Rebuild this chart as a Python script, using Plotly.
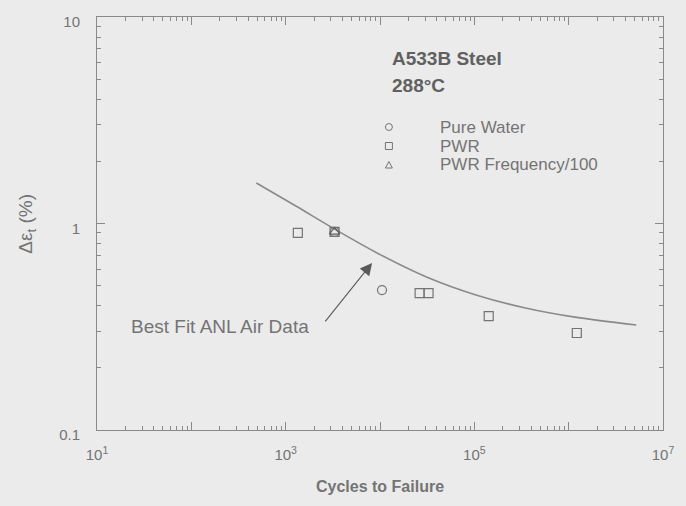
import plotly.graph_objects as go

# ---- data ----
pure_water_n = [3300, 10500]
pure_water_e = [0.91, 0.476]

pwr_n = [1346, 3300, 26300, 32700, 142000, 1220000]
pwr_e = [0.90, 0.91, 0.46, 0.46, 0.356, 0.295]

pwr_f100_n = [3300]
pwr_f100_e = [0.91]

fit_n = [489, 1283, 3296, 9310, 31100, 104000, 348000, 1170000, 5210000]
fit_e = [1.57, 1.215, 0.940, 0.720, 0.551, 0.451, 0.390, 0.352, 0.3225]

x_tickvals = [1e1, 1e2, 1e3, 1e4, 1e5, 1e6, 1e7]
x_ticktext = ["10<sup>1</sup>", "", "10<sup>3</sup>", "", "10<sup>5</sup>", "", "10<sup>7</sup>"]
y_tickvals = [0.1, 1, 10]
y_ticktext = ["0.1", "1", "10"]

legend_labels = ["Pure Water", "PWR", "PWR Frequency/100"]
legend_symbols = ["circle", "square", "triangle"]

BG = "#ebebeb"
INK = "#747474"
DARK = "#606060"
LINE = "#8a8a8a"
FONT = "Liberation Sans, Arial, sans-serif"

# plot area in pixels
W, H = 686, 506
L, R, T, B = 97, 17, 17, 76
PW, PH = W - L - R, H - T - B


def px(xp):
    return (xp - L) / PW


def py(yp):
    return (H - B - yp) / PH


fig = go.Figure()

fig.add_trace(go.Scatter(x=fit_n, y=fit_e, mode="lines", line=dict(color=LINE, width=1.6, shape="spline"),
                         showlegend=False, hoverinfo="skip"))
fig.add_trace(go.Scatter(x=pure_water_n, y=pure_water_e, mode="markers", name=legend_labels[0], showlegend=False,
                         marker=dict(symbol="circle-open", size=9, color=INK, line=dict(width=1.2))))
fig.add_trace(go.Scatter(x=pwr_n, y=pwr_e, mode="markers", name=legend_labels[1], showlegend=False,
                         marker=dict(symbol="square-open", size=9, color=INK, line=dict(width=1.2))))
fig.add_trace(go.Scatter(x=pwr_f100_n, y=pwr_f100_e, mode="markers", name=legend_labels[2], showlegend=False,
                         marker=dict(symbol="triangle-up-open", size=9, color=DARK, line=dict(width=1.2))))

axis_common = dict(
    type="log", showgrid=False, zeroline=False, showline=True, linecolor=LINE, linewidth=1,
    mirror="ticks", ticks="inside", ticklen=8, tickcolor=LINE, tickwidth=1,
    tickfont=dict(family=FONT, size=15, color=INK),
    minor=dict(ticks="inside", ticklen=4, tickcolor=LINE, dtick="D1", showgrid=False),
)

fig.update_xaxes(range=[1, 7], tickmode="array", tickvals=x_tickvals, ticktext=x_ticktext,
                 ticklabelstandoff=11, **axis_common)
fig.update_yaxes(range=[-1, 1], tickmode="array", tickvals=y_tickvals, ticktext=y_ticktext,
                 ticklabelstandoff=13, ticklabelshift=5, **axis_common)

annotations = [
    dict(text="<b>A533B Steel</b>", xref="paper", yref="paper", x=px(393), y=py(59), xanchor="left",
         yanchor="middle", showarrow=False, font=dict(family=FONT, size=19, color=DARK)),
    dict(text="<b>288°C</b>", xref="paper", yref="paper", x=px(393), y=py(85), xanchor="left",
         yanchor="middle", showarrow=False, font=dict(family=FONT, size=19, color=DARK)),
    dict(text="Best Fit ANL Air Data", xref="paper", yref="paper", x=px(221), y=py(326),
         xanchor="center", yanchor="middle", showarrow=False, font=dict(family=FONT, size=19, color=INK)),
    dict(text="", x=3.916, y=-0.191, xref="x", yref="y", showarrow=True, ax=-48, ay=60,
         arrowhead=2, arrowsize=2.2, arrowwidth=1.1, arrowcolor="#5a5a5a"),
    dict(text="Δε<sub>t</sub> (%)", xref="paper", yref="paper", x=px(26), y=py(224),
         xanchor="center", yanchor="middle", textangle=-90, showarrow=False,
         font=dict(family=FONT, size=19, color=INK)),
    dict(text="<b>Cycles to Failure</b>", xref="paper", yref="paper", x=px(383), y=py(487),
         xanchor="center", yanchor="middle", showarrow=False, font=dict(family=FONT, size=16, color=INK)),
]

shapes = []
leg_y = [127, 146, 165]
for lab, sym, yy in zip(legend_labels, legend_symbols, leg_y):
    annotations.append(dict(text=lab, xref="paper", yref="paper", x=px(442), y=py(yy), xanchor="left",
                            yanchor="middle", showarrow=False, font=dict(family=FONT, size=17, color=INK)))
    common = dict(xref="paper", yref="paper", xsizemode="pixel", ysizemode="pixel",
                  xanchor=px(392), yanchor=py(yy), line=dict(color=INK, width=1))
    if sym == "circle":
        shapes.append(dict(type="circle", x0=-3.5, x1=3.5, y0=-3.5, y1=3.5, **common))
    elif sym == "square":
        shapes.append(dict(type="rect", x0=-3.5, x1=3.5, y0=-3.5, y1=3.5, **common))
    else:
        shapes.append(dict(type="path", path="M -3.5 -3 L 3.5 -3 L 0 3.5 Z", **common))

fig.update_layout(
    width=W, height=H,
    margin=dict(l=L, r=R, t=T, b=B),
    paper_bgcolor=BG, plot_bgcolor=BG,
    font=dict(family=FONT, color=INK),
    showlegend=False,
    annotations=annotations,
    shapes=shapes,
)

fig.write_html("out.html")
